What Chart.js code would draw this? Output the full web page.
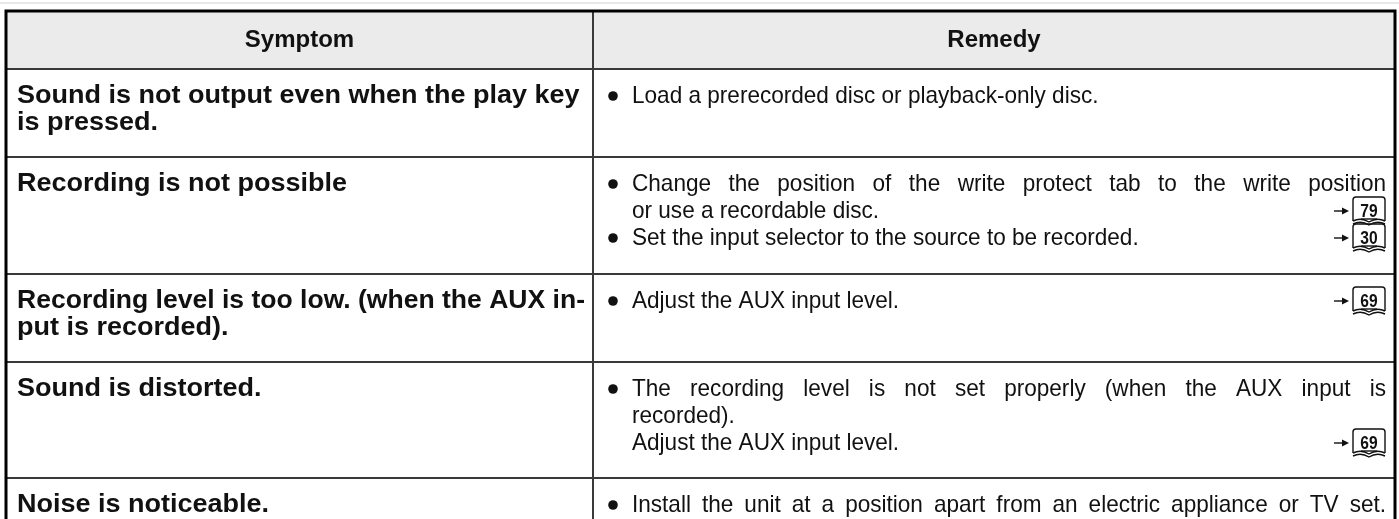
<!DOCTYPE html>
<html><head><meta charset="utf-8">
<script src="https://cdn.jsdelivr.net/npm/chart.js@4/dist/chart.umd.min.js"></script>
<style>html,body{margin:0;padding:0;background:#fff;overflow:hidden}#wrap{width:1399px;height:519px;position:relative}</style>
</head><body><div id="wrap"><canvas id="c"></canvas></div>
<script>
// ---- table content ----
const headers = ['Symptom', 'Remedy'];
const symptoms = [
  ['Sound is not output even when the play key', 'is pressed.'],
  ['Recording is not possible'],
  ['Recording level is too low. (when the AUX in-', 'put is recorded).'],
  ['Sound is distorted.'],
  ['Noise is noticeable.']
];
const remedyText = [
  ['Load a prerecorded disc or playback-only disc.'],
  ['Change the position of the write protect tab to the write position', 'or use a recordable disc.', 'Set the input selector to the source to be recorded.'],
  ['Adjust the AUX input level.'],
  ['The recording level is not set properly (when the AUX input is', 'recorded).', 'Adjust the AUX input level.'],
  ['Install the unit at a position apart from an electric appliance or TV set.']
];
const remedyBullet = [
  [true],
  [true, false, true],
  [true],
  [true, false, false],
  [true]
];
const remedyRef = [
  [null],
  [null, '79', '30'],
  ['69'],
  [null, null, '69'],
  [null]
];
const remedyJustify = [
  [false],
  [true, false, false],
  [false],
  [true, false, false],
  [true]
];

// ---- layout (table geometry in scale units) ----
const L = {
  top: 11, headerBottom: 69, rowBottoms: [157, 274, 362, 478, 519],
  left: 6, right: 1395, divider: 593,
  symX: 17, bulletX: 613, remX: 632, remRight: 1386, refRight: 1385,
  firstLine: 27, lineGap: 27
};
const FAMILY = "'Liberation Sans', Arial, sans-serif";
const HEAD = {font: "bold 24px " + FAMILY, sx: 1.0};
const BOLD = {font: "bold 25px " + FAMILY, sx: 1.08};
const REG = {font: "24px " + FAMILY, sx: 0.94};

// anchor points, one per cell, placed through the scales
const cellPoints = [];
symptoms.forEach((s, i) => {
  const top = i === 0 ? L.headerBottom : L.rowBottoms[i - 1];
  cellPoints.push({x: L.symX, y: top, r: i, c: 0});
  cellPoints.push({x: L.remX, y: top, r: i, c: 1});
});

function textW(ctx, st, t) { ctx.font = st.font; return ctx.measureText(t).width * st.sx; }
function drawText(ctx, st, t, x, y, maxW) {
  ctx.font = st.font;
  let sx = st.sx;
  const w = ctx.measureText(t).width * sx;
  if (maxW && w > maxW) sx *= maxW / w;
  ctx.save(); ctx.translate(x, y); ctx.scale(sx, 1); ctx.fillText(t, 0, 0); ctx.restore();
}

function drawBook(ctx, xr, yc, num) {
  const w = 32, h = 24;
  const x0 = xr - w, y0 = yc - h / 2 - 2;
  ctx.save();
  ctx.strokeStyle = '#111'; ctx.fillStyle = '#111'; ctx.lineWidth = 1.4;
  ctx.beginPath(); ctx.moveTo(x0 - 19, yc); ctx.lineTo(x0 - 9, yc); ctx.stroke();
  ctx.beginPath(); ctx.moveTo(x0 - 4, yc); ctx.lineTo(x0 - 11, yc - 3.5); ctx.lineTo(x0 - 11, yc + 3.5); ctx.closePath(); ctx.fill();
  ctx.beginPath();
  ctx.moveTo(x0, y0 + h); ctx.lineTo(x0, y0 + 3); ctx.quadraticCurveTo(x0, y0, x0 + 3, y0);
  ctx.lineTo(x0 + w - 3, y0); ctx.quadraticCurveTo(x0 + w, y0, x0 + w, y0 + 3); ctx.lineTo(x0 + w, y0 + h);
  ctx.stroke();
  for (let k = 0; k < 2; k++) {
    const yy = y0 + h + k * 3;
    ctx.beginPath();
    ctx.moveTo(x0, yy);
    ctx.quadraticCurveTo(x0 + w / 4, yy - 4, x0 + w / 2, yy + 1);
    ctx.quadraticCurveTo(x0 + 3 * w / 4, yy - 4, x0 + w, yy);
    ctx.stroke();
  }
  ctx.font = "bold 19px " + FAMILY;
  ctx.textAlign = 'center'; ctx.textBaseline = 'alphabetic';
  ctx.save(); ctx.translate(x0 + w / 2, y0 + h - 4); ctx.scale(0.82, 1); ctx.fillText(num, 0, 0); ctx.restore();
  ctx.beginPath(); ctx.moveTo(x0 + 8, y0 + h - 2); ctx.lineTo(x0 + w - 8, y0 + h - 2); ctx.stroke();
  ctx.restore();
}

function drawJustified(ctx, st, text, x, y, width) {
  ctx.font = st.font;
  const words = text.split(' ');
  const ww = words.map(w => ctx.measureText(w).width * st.sx);
  const wsum = ww.reduce((a, b) => a + b, 0);
  const gaps = words.length - 1;
  let gap = (width - wsum) / gaps;
  const minGap = ctx.measureText(' ').width * st.sx * 0.6;
  let k = 1;
  if (gap < minGap) { k = width / (wsum + minGap * gaps); gap = minGap * k; }
  let cx = x;
  words.forEach((w, i) => {
    ctx.save(); ctx.translate(cx, y); ctx.scale(st.sx * k, 1); ctx.fillText(w, 0, 0); ctx.restore();
    cx += ww[i] * k + gap;
  });
}

const tablePlugin = {
  id: 'tablePlugin',
  beforeDatasetsDraw(chart) {
    const ctx = chart.ctx, X = chart.scales.x, Y = chart.scales.y;
    const px = v => X.getPixelForValue(v), py = v => Y.getPixelForValue(v);
    ctx.save();
    ctx.fillStyle = '#cfcfcf'; ctx.fillRect(px(0), py(2.5), px(1399) - px(0), 1);
    ctx.fillStyle = '#ebebeb';
    ctx.fillRect(px(L.left), py(L.top), px(L.right) - px(L.left), py(L.headerBottom) - py(L.top));
    ctx.strokeStyle = '#3a3a3a'; ctx.lineWidth = 2;
    [L.headerBottom, ...L.rowBottoms.slice(0, -1)].forEach(v => {
      ctx.beginPath(); ctx.moveTo(px(L.left), py(v)); ctx.lineTo(px(L.right), py(v)); ctx.stroke();
    });
    ctx.beginPath(); ctx.moveTo(px(L.divider), py(L.top)); ctx.lineTo(px(L.divider), py(519)); ctx.stroke();
    ctx.strokeStyle = '#000'; ctx.lineWidth = 3;
    ctx.beginPath();
    ctx.moveTo(px(L.left), py(519)); ctx.lineTo(px(L.left), py(L.top));
    ctx.lineTo(px(L.right), py(L.top)); ctx.lineTo(px(L.right), py(519));
    ctx.stroke();
    ctx.fillStyle = '#111'; ctx.textBaseline = 'middle'; ctx.textAlign = 'left';
    const hy = py((L.top + L.headerBottom) / 2);
    const c0 = (px(L.left) + px(L.divider)) / 2, c1 = (px(L.divider) + px(L.right)) / 2;
    drawText(ctx, HEAD, headers[0], c0 - textW(ctx, HEAD, headers[0]) / 2, hy);
    drawText(ctx, HEAD, headers[1], c1 - textW(ctx, HEAD, headers[1]) / 2, hy);
    ctx.restore();
  },
  afterDatasetsDraw(chart) {
    const ctx = chart.ctx, X = chart.scales.x, Y = chart.scales.y;
    const meta = chart.getDatasetMeta(0);
    ctx.save();
    ctx.fillStyle = '#111'; ctx.textBaseline = 'middle'; ctx.textAlign = 'left';
    meta.data.forEach((el, k) => {
      const p = cellPoints[k];
      const x = el.x;
      const lineY = j => Y.getPixelForValue(p.y + L.firstLine + j * L.lineGap);
      if (p.c === 0) {
        const maxW = X.getPixelForValue(L.divider - 8) - x;
        symptoms[p.r].forEach((t, j) => drawText(ctx, BOLD, t, x, lineY(j), maxW));
      } else {
        const right = X.getPixelForValue(L.remRight);
        remedyText[p.r].forEach((t, j) => {
          const yy = lineY(j);
          if (remedyBullet[p.r][j]) {
            ctx.beginPath(); ctx.arc(X.getPixelForValue(L.bulletX), yy, 4.8, 0, Math.PI * 2); ctx.fill();
          }
          if (remedyJustify[p.r][j]) drawJustified(ctx, REG, t, x, yy, right - x);
          else drawText(ctx, REG, t, x, yy);
          if (remedyRef[p.r][j]) drawBook(ctx, X.getPixelForValue(L.refRight), yy, remedyRef[p.r][j]);
        });
      }
    });
    ctx.restore();
  }
};

new Chart(document.getElementById('c'), {
  type: 'scatter',
  data: { datasets: [{ data: cellPoints, pointRadius: 0, pointHoverRadius: 0 }] },
  options: {
    responsive: true, maintainAspectRatio: false, animation: false,
    layout: { padding: 0 },
    plugins: { legend: { display: false }, tooltip: { enabled: false } },
    events: [],
    scales: {
      x: { type: 'linear', min: 0, max: 1399, display: false },
      y: { type: 'linear', min: 0, max: 519, reverse: true, display: false }
    }
  },
  plugins: [tablePlugin]
});
</script>
</body></html>
